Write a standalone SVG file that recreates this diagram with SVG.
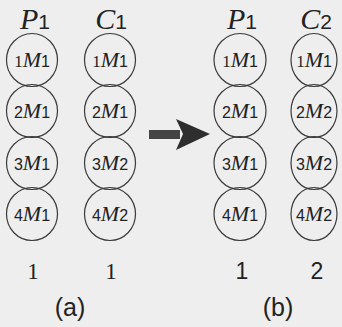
<svg xmlns="http://www.w3.org/2000/svg" width="342" height="327" viewBox="0 0 342 327">
<style>
.c{fill:none;stroke:#3a3a3a;stroke-width:1.2}
.lab{fill:#222;text-anchor:middle}
.d{font-family:"Liberation Serif",serif;font-size:17px}
.m{font-family:"Liberation Serif",serif;font-style:italic;font-size:22px}
.s{font-family:"Liberation Sans",sans-serif;font-size:16px}
.hd{fill:#222;text-anchor:middle}
.hm{font-family:"Liberation Serif",serif;font-style:italic;font-size:30px}
.hs{font-family:"Liberation Sans",sans-serif;font-size:21px}
.num{font-family:"Liberation Serif",serif;font-size:23px;fill:#222;text-anchor:middle}
.nums{font-family:"Liberation Sans",sans-serif;font-size:23px;fill:#222;text-anchor:middle}
.cap{font-family:"Liberation Sans",sans-serif;font-size:25px;fill:#222;text-anchor:middle}
</style>
<rect width="342" height="327" fill="#eeeeee"/>
<g id="colA1">
<text class="hd" x="35" y="29"><tspan class="hm">P</tspan><tspan class="hs">1</tspan></text>
<g id="a1m1"><ellipse class="c" cx="32" cy="60" rx="25.5" ry="26.5"/><text class="lab" x="32" y="67"><tspan class="d">1</tspan><tspan class="m">M</tspan><tspan class="s">1</tspan></text></g>
<g id="a1m2"><ellipse class="c" cx="32" cy="111" rx="25.5" ry="26.5"/><text class="lab" x="32" y="118"><tspan class="s">2</tspan><tspan class="m">M</tspan><tspan class="s">1</tspan></text></g>
<g id="a1m3"><ellipse class="c" cx="32" cy="163" rx="25.5" ry="26.5"/><text class="lab" x="32" y="170"><tspan class="s">3</tspan><tspan class="m">M</tspan><tspan class="s">1</tspan></text></g>
<g id="a1m4"><ellipse class="c" cx="32" cy="214" rx="25.5" ry="26.5"/><text class="lab" x="32" y="221"><tspan class="s">4</tspan><tspan class="m">M</tspan><tspan class="s">1</tspan></text></g>
<text class="num" x="33" y="279">1</text>
</g>
<g id="colA2">
<text class="hd" x="111" y="29"><tspan class="hm">C</tspan><tspan class="hs">1</tspan></text>
<g id="a2m1"><ellipse class="c" cx="110" cy="60" rx="25.5" ry="26.5"/><text class="lab" x="110" y="67"><tspan class="d">1</tspan><tspan class="m">M</tspan><tspan class="s">1</tspan></text></g>
<g id="a2m2"><ellipse class="c" cx="110" cy="111" rx="25.5" ry="26.5"/><text class="lab" x="110" y="118"><tspan class="s">2</tspan><tspan class="m">M</tspan><tspan class="s">1</tspan></text></g>
<g id="a2m3"><ellipse class="c" cx="110" cy="163" rx="25.5" ry="26.5"/><text class="lab" x="110" y="170"><tspan class="s">3</tspan><tspan class="m">M</tspan><tspan class="s">2</tspan></text></g>
<g id="a2m4"><ellipse class="c" cx="110" cy="214" rx="25.5" ry="26.5"/><text class="lab" x="110" y="221"><tspan class="s">4</tspan><tspan class="m">M</tspan><tspan class="s">2</tspan></text></g>
<text class="num" x="111" y="279">1</text>
</g>
<text class="cap" x="70" y="316">(a)</text>
<g id="colB1">
<text class="hd" x="242" y="29"><tspan class="hm">P</tspan><tspan class="hs">1</tspan></text>
<g id="b1m1"><ellipse class="c" cx="240" cy="60" rx="26" ry="26.5"/><text class="lab" x="240" y="67"><tspan class="d">1</tspan><tspan class="m">M</tspan><tspan class="s">1</tspan></text></g>
<g id="b1m2"><ellipse class="c" cx="240" cy="111" rx="26" ry="26.5"/><text class="lab" x="240" y="118"><tspan class="s">2</tspan><tspan class="m">M</tspan><tspan class="s">1</tspan></text></g>
<g id="b1m3"><ellipse class="c" cx="240" cy="163" rx="26" ry="26.5"/><text class="lab" x="240" y="170"><tspan class="s">3</tspan><tspan class="m">M</tspan><tspan class="s">1</tspan></text></g>
<g id="b1m4"><ellipse class="c" cx="240" cy="214" rx="26" ry="26.5"/><text class="lab" x="240" y="221"><tspan class="s">4</tspan><tspan class="m">M</tspan><tspan class="s">1</tspan></text></g>
<text class="nums" x="242" y="279">1</text>
</g>
<g id="colB2">
<text class="hd" x="316" y="29"><tspan class="hm">C</tspan><tspan class="hs">2</tspan></text>
<g id="b2m1"><ellipse class="c" cx="314" cy="60" rx="23" ry="26.5"/><text class="lab" x="314" y="67"><tspan class="d">1</tspan><tspan class="m">M</tspan><tspan class="s">1</tspan></text></g>
<g id="b2m2"><ellipse class="c" cx="314" cy="111" rx="23" ry="26.5"/><text class="lab" x="314" y="118"><tspan class="s">2</tspan><tspan class="m">M</tspan><tspan class="s">2</tspan></text></g>
<g id="b2m3"><ellipse class="c" cx="314" cy="163" rx="23" ry="26.5"/><text class="lab" x="314" y="170"><tspan class="s">3</tspan><tspan class="m">M</tspan><tspan class="s">2</tspan></text></g>
<g id="b2m4"><ellipse class="c" cx="314" cy="214" rx="23" ry="26.5"/><text class="lab" x="314" y="221"><tspan class="s">4</tspan><tspan class="m">M</tspan><tspan class="s">2</tspan></text></g>
<text class="nums" x="317" y="279">2</text>
</g>
<text class="cap" x="278" y="316">(b)</text>
<g id="connectors">
<path d="M149,130 H180 V139 H149 Z" fill="#444"/>
<path d="M176,119 L210,134 L176,150 L183,134 Z" fill="#2e2e2e"/>
</g>
</svg>
